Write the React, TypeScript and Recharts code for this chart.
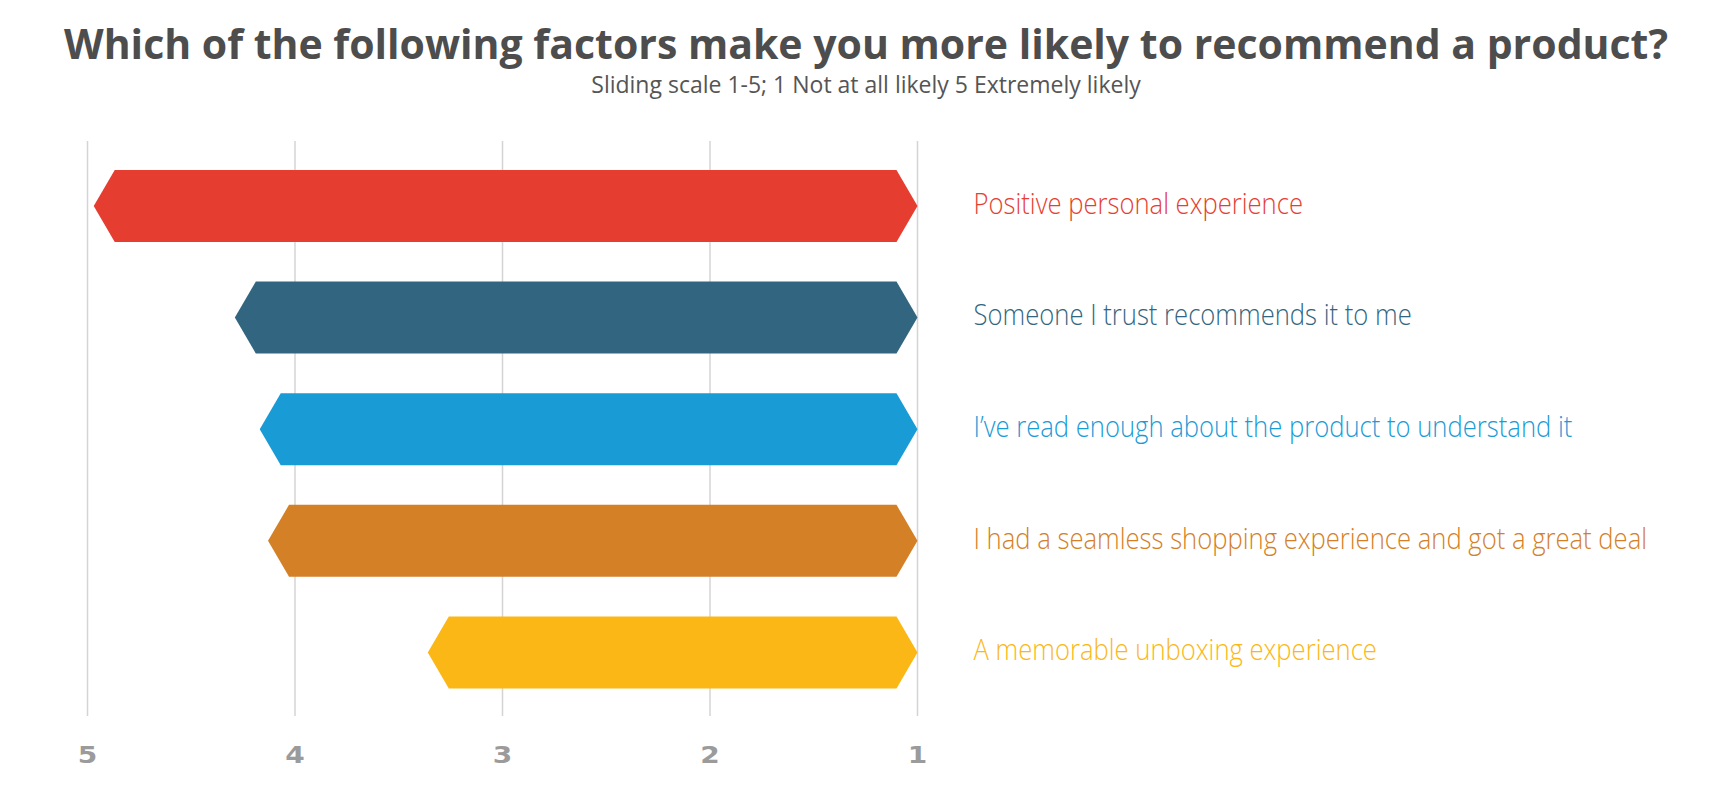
// Recommendation factors — arrow-shaped horizontal bars on a reversed 5..1 scale
import { BarChart, Bar, XAxis, YAxis, CartesianGrid, Cell } from 'recharts'

const factors = [
  'Positive personal experience',
  'Someone I trust recommends it to me',
  'I’ve read enough about the product to understand it',
  'I had a seamless shopping experience and got a great deal',
  'A memorable unboxing experience',
]
const scores = [4.97, 4.29, 4.17, 4.13, 3.36]
const colors = ['#e53e31', '#326680', '#199bd6', '#d48027', '#fbb715']
const scaleTicks = [5, 4, 3, 2, 1]

const title = 'Which of the following factors make you more likely to recommend a product?'
const subtitle = 'Sliding scale 1-5; 1 Not at all likely 5 Extremely likely'

const data = factors.map((name, i) => ({ name, score: scores[i] }))

function ArrowBar(props: any) {
  const { x, y, width, height, fill } = props
  const left = Math.min(x, x + width)
  const right = Math.max(x, x + width)
  const tip = Math.min(21, (right - left) / 2)
  const mid = y + height / 2
  const pts = [
    [left, mid],
    [left + tip, y],
    [right - tip, y],
    [right, mid],
    [right - tip, y + height],
    [left + tip, y + height],
  ]
  return <polygon points={pts.map((p) => p.join(',')).join(' ')} fill={fill} />
}

function ScaleTick({ x, y, payload }: any) {
  return (
    <text
      transform={`translate(${x},${y}) scale(1.22,1)`}
      textAnchor="middle"
      dominantBaseline="central"
      fill="#9b9b9b"
      fontSize={23}
      fontWeight={700}
      fontFamily="DejaVu Sans"
    >
      {payload.value}
    </text>
  )
}

function FactorTick({ x, y, payload }: any) {
  const i = factors.indexOf(payload.value)
  return (
    <text
      transform={`translate(${x},${y + 8}) scale(0.855,1)`}
      textAnchor="start"
      fill={colors[i]}
      fontSize={30}
      fontWeight={300}
      fontFamily="Open Sans"
    >
      {payload.value}
    </text>
  )
}

export default function App() {
  return (
    <div style={{ position: 'absolute', left: 0, top: 0, width: 1733, height: 800, background: '#fff' }}>
      <svg width={1733} height={110} style={{ position: 'absolute', left: 0, top: 0 }}>
        <text
          x={866}
          y={59}
          textAnchor="middle"
          fontFamily="Open Sans"
          fontWeight={700}
          fontSize={41}
          fill="#4d4d4d"
        >
          {title}
        </text>
        <text
          x={866}
          y={93}
          textAnchor="middle"
          fontFamily="Open Sans"
          fontWeight={400}
          fontSize={23}
          fill="#555"
        >
          {subtitle}
        </text>
      </svg>
      <div style={{ position: 'absolute', left: 0, top: 0 }}>
        <BarChart
          width={1733}
          height={800}
          data={data}
          layout="vertical"
          margin={{ top: 141, right: 115.5, bottom: 24, left: 87.5 }}
        >
          <CartesianGrid horizontal={false} stroke="#d4d4d4" strokeWidth={1.5} />
          <XAxis
            type="number"
            dataKey="score"
            domain={[1, 5]}
            ticks={scaleTicks}
            reversed
            height={60}
            axisLine={false}
            tickLine={false}
            tickSize={0}
            tickMargin={39}
            tick={<ScaleTick />}
          />
          <YAxis
            yAxisId="left"
            type="category"
            dataKey="name"
            hide
            width={0}
            padding={{ top: 9, bottom: 8 }}
          />
          <YAxis
            yAxisId="right"
            orientation="right"
            type="category"
            dataKey="name"
            width={700}
            axisLine={false}
            tickLine={false}
            tickSize={0}
            tickMargin={56}
            interval={0}
            padding={{ top: 9, bottom: 8 }}
            tick={<FactorTick />}
          />
          <Bar
            yAxisId="left"
            dataKey="score"
            barSize={72}
            shape={<ArrowBar />}
            isAnimationActive={false}
          >
            {data.map((d, i) => (
              <Cell key={d.name} fill={colors[i]} />
            ))}
          </Bar>
        </BarChart>
      </div>
    </div>
  )
}
